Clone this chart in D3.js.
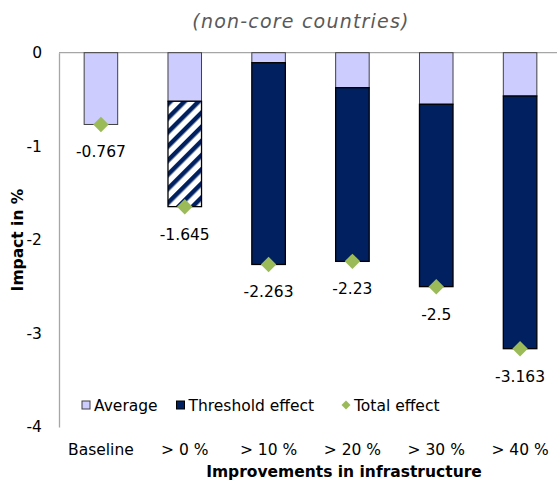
<!DOCTYPE html>
<html>
<head>
<meta charset="utf-8">
<script src="https://cdn.jsdelivr.net/npm/d3@7"></script>
<style>
  html, body { margin: 0; padding: 0; background: #fff; }
  svg { display: block; font-family: "DejaVu Sans", Verdana, sans-serif; }
</style>
</head>
<body>
<svg id="chart" width="557" height="483"></svg>
<script>
// Impact of infrastructure improvements, non-core countries
const categories = ["Baseline", "> 0 %", "> 10 %", "> 20 %", "> 30 %", "> 40 %"];
const averageValues = [-0.767, -0.519, -0.107, -0.374, -0.551, -0.463];
const totalValues = [-0.767, -1.645, -2.263, -2.23, -2.5, -3.163];
const totalLabels = ["-0.767", "-1.645", "-2.263", "-2.23", "-2.5", "-3.163"];
const hatchedIndex = [1];           // threshold effect not significant -> hatched
const yTicks = [0, -1, -2, -3, -4];
const seriesNames = ["Average", "Threshold effect", "Total effect"];

const colors = { average: "#CCCCFF", threshold: "#002060", total: "#9BBB59", axis: "#A6A6A6" };
const fontSize = 15.5;

const svg = d3.select("#chart");
const plotLeft = 59, plotTop = 52.7, plotBottom = 427, plotRight = 562;

const x = d3.scaleBand().domain(categories).range([plotLeft, plotRight])
  .paddingInner(0.6).paddingOuter(0.3);
const y = d3.scaleLinear().domain([-4, 0]).range([plotBottom, plotTop]);

// hatch pattern for the non-significant threshold segment
const defs = svg.append("defs");
const pat = defs.append("pattern").attr("id", "hatch")
  .attr("patternUnits", "userSpaceOnUse").attr("width", 10).attr("height", 10)
  .attr("patternTransform", "rotate(45)");
pat.append("rect").attr("width", 10).attr("height", 10).attr("fill", "#fff");
pat.append("rect").attr("width", 4.5).attr("height", 10).attr("fill", colors.threshold);

const rows = categories.map((c, i) => ({
  cat: c, avg: averageValues[i], total: totalValues[i],
  thr: totalValues[i] - averageValues[i], label: totalLabels[i],
  hatched: hatchedIndex.includes(i)
}));

// title
svg.append("text").attr("x", 301).attr("y", 28).attr("text-anchor", "middle")
  .attr("font-size", 19).attr("font-style", "italic").attr("fill", "#595959")
  .attr("letter-spacing", 1.2)
  .text("(non-core countries)");

// top border line at zero
svg.append("line").attr("x1", plotLeft).attr("x2", 557).attr("y1", plotTop).attr("y2", plotTop)
  .attr("stroke", colors.axis).attr("stroke-width", 1.3);

// left axis
const yAxis = d3.axisLeft(y).tickValues(yTicks).tickSize(0).tickPadding(17)
  .tickFormat(d => String(d));
const gy = svg.append("g").attr("transform", `translate(${plotLeft},0)`).call(yAxis);
gy.select(".domain").attr("stroke", colors.axis).attr("stroke-width", 1.3);
gy.selectAll("text").attr("font-size", fontSize).attr("fill", "#000")
  .attr("font-family", "DejaVu Sans, Verdana, sans-serif");

// average segment (from 0 to average)
svg.append("g").selectAll("rect").data(rows).join("rect")
  .attr("x", d => x(d.cat)).attr("width", x.bandwidth())
  .attr("y", y(0)).attr("height", d => y(d.avg) - y(0))
  .attr("fill", colors.average).attr("stroke", "#404040").attr("stroke-width", 1);

// threshold segment (stacked below the average)
svg.append("g").selectAll("rect").data(rows.filter(d => d.thr < 0)).join("rect")
  .attr("x", d => x(d.cat)).attr("width", x.bandwidth())
  .attr("y", d => y(d.avg)).attr("height", d => y(d.total) - y(d.avg))
  .attr("fill", d => d.hatched ? "url(#hatch)" : colors.threshold)
  .attr("stroke", "#000").attr("stroke-width", 1.3);

// total effect markers
svg.append("g").selectAll("path").data(rows).join("path")
  .attr("d", d3.symbol().type(d3.symbolSquare).size(120))
  .attr("transform", d => `translate(${x(d.cat) + x.bandwidth() / 2},${y(d.total)}) rotate(45)`)
  .attr("fill", colors.total);

// value labels
svg.append("g").selectAll("text").data(rows).join("text")
  .attr("x", d => x(d.cat) + x.bandwidth() / 2).attr("y", d => y(d.total) + 33)
  .attr("text-anchor", "middle").attr("font-size", fontSize).attr("fill", "#000")
  .text(d => d.label);

// category labels
svg.append("g").selectAll("text").data(categories).join("text")
  .attr("x", d => x(d) + x.bandwidth() / 2).attr("y", 455)
  .attr("text-anchor", "middle").attr("font-size", fontSize).attr("fill", "#000")
  .text(d => d);

// axis titles
svg.append("text").attr("x", 344).attr("y", 477)
  .attr("text-anchor", "middle").attr("font-size", fontSize).attr("font-weight", "bold")
  .text("Improvements in infrastructure");
svg.append("text").attr("transform", "translate(23,240) rotate(-90)")
  .attr("text-anchor", "middle").attr("font-size", fontSize).attr("font-weight", "bold")
  .text("Impact in %");

// legend
const lg = svg.append("g").attr("font-size", fontSize);
const legendItems = [
  { name: seriesNames[0], x: 82, kind: "rect", fill: colors.average, stroke: "#404040" },
  { name: seriesNames[1], x: 176.5, kind: "rect", fill: colors.threshold, stroke: "#000" },
  { name: seriesNames[2], x: 342, kind: "diamond", fill: colors.total }
];
legendItems.forEach(it => {
  if (it.kind === "rect") {
    lg.append("rect").attr("x", it.x).attr("y", 401).attr("width", 8).attr("height", 8)
      .attr("fill", it.fill).attr("stroke", it.stroke).attr("stroke-width", 1);
  } else {
    lg.append("path").attr("d", d3.symbol().type(d3.symbolSquare).size(40))
      .attr("transform", `translate(${it.x + 4},405) rotate(45)`).attr("fill", it.fill);
  }
  lg.append("text").attr("x", it.x + 12).attr("y", 410.5).text(it.name);
});
</script>
</body>
</html>
